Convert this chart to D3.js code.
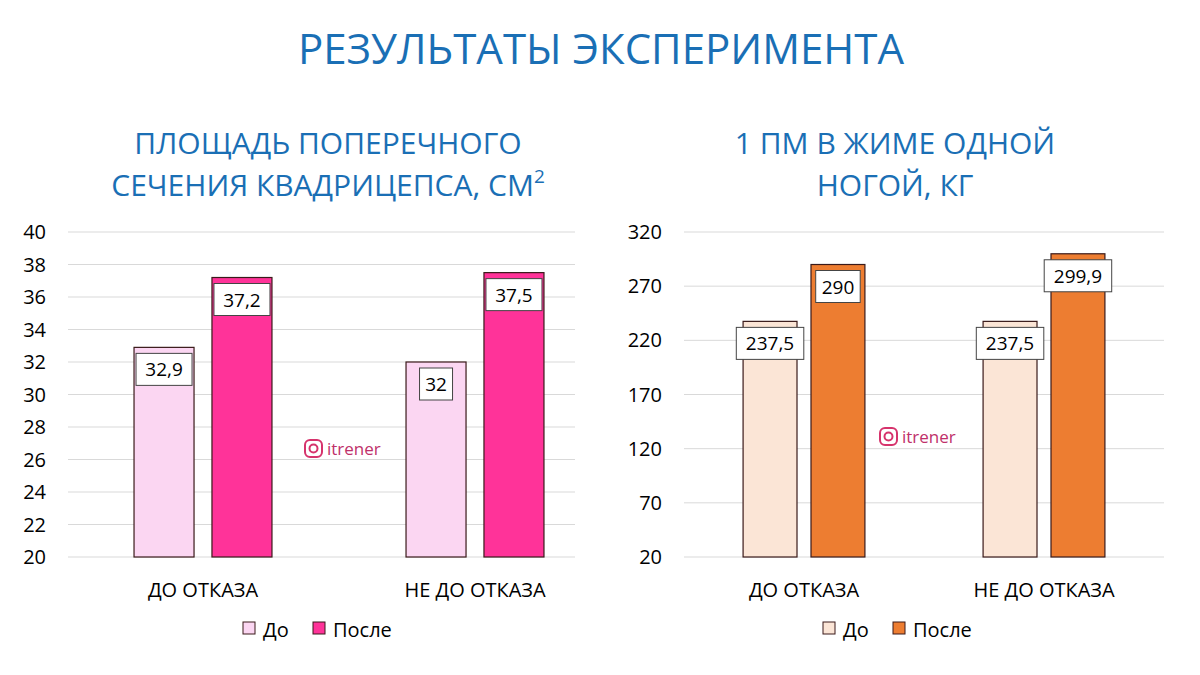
<!DOCTYPE html><html><head><meta charset="utf-8"><script src="https://cdn.jsdelivr.net/npm/d3@7"></script>
<style>body{margin:0;background:#fff}text{font-family:"Open Sans",sans-serif}</style></head><body><svg id="c" width="1200" height="675"></svg>
<script>
const categories=["ДО ОТКАЗА","НЕ ДО ОТКАЗА"];
const series=["До","После"];
const areaValues=[[32.9,37.2],[32,37.5]];
const areaLabels=[["32,9","37,2"],["32","37,5"]];
const pmValues=[[237.5,290],[237.5,299.9]];
const pmLabels=[["237,5","290"],["237,5","299,9"]];
const areaTicks=[20,22,24,26,28,30,32,34,36,38,40];
const pmTicks=[20,70,120,170,220,270,320];
const svg=d3.select("#c");
const blue="#1a6fb5";
svg.append("text").attr("x",601).attr("y",64).attr("text-anchor","middle").attr("fill",blue).attr("font-size",42).text("РЕЗУЛЬТАТЫ ЭКСПЕРИМЕНТА");
function chart(o){
  const y=d3.scaleLinear().domain(o.dom).range([557,232]);
  const x=d3.scaleBand().domain(categories).range(o.xr);
  const xs=d3.scaleBand().domain(series).range([0,x.bandwidth()]).paddingInner(o.pi).paddingOuter(o.po);
  const g=svg.append("g");
  o.title.forEach((t,i)=>{const tx=g.append("text").attr("x",o.tx).attr("y",154+i*42).attr("text-anchor","middle").attr("fill",blue).attr("font-size",30).text(t);
    if(i==1&&o.sup){tx.append("tspan").attr("dy",-13).attr("font-size",19).text("2");}});
  o.ticks.forEach(t=>{g.append("line").attr("x1",o.gx[0]).attr("x2",o.gx[1]).attr("y1",y(t)).attr("y2",y(t)).attr("stroke","#d9d9d9");
    g.append("text").attr("x",o.lx).attr("y",y(t)+7).attr("text-anchor","end").attr("font-size",20).attr("fill","#000").text(t);});
  categories.forEach((c,ci)=>{
    series.forEach((s,si)=>{
      const v=o.vals[ci][si],bx=x(c)+xs(s),bw=xs.bandwidth();
      g.append("rect").attr("x",bx).attr("y",y(v)).attr("width",bw).attr("height",y(o.dom[0])-y(v)).attr("fill",o.colors[si]).attr("stroke","#3a1a1a").attr("stroke-width",1.2);
      const lbl=o.labels[ci][si],w=lbl.length*11.5+10;
      g.append("rect").attr("x",bx+bw/2-w/2).attr("y",y(v)+6).attr("width",w).attr("height",32).attr("fill","#fff").attr("stroke","#444");
      g.append("text").attr("x",bx+bw/2).attr("y",y(v)+29).attr("text-anchor","middle").attr("font-size",19).text(lbl);
    });
    g.append("text").attr("x",x(c)+x.bandwidth()/2).attr("y",597).attr("text-anchor","middle").attr("font-size",20).text(c);
  });
  series.forEach((s,i)=>{const lx=o.leg+i*70;
    g.append("rect").attr("x",lx).attr("y",622).attr("width",12).attr("height",12).attr("fill",o.colors[i]).attr("stroke","#3a1a1a");
    g.append("text").attr("x",lx+20).attr("y",637).attr("font-size",20).text(s);});
  const wx=o.wm[0],wy=o.wm[1];
  g.append("rect").attr("x",wx).attr("y",wy-9).attr("width",17).attr("height",17).attr("rx",5).attr("fill","none").attr("stroke","#d6336c").attr("stroke-width",2);
  g.append("circle").attr("cx",wx+8.5).attr("cy",wy-0.5).attr("r",4).attr("fill","none").attr("stroke","#d6336c").attr("stroke-width",2);
  g.append("text").attr("x",wx+22).attr("y",wy+6).attr("font-size",17).attr("fill","#c0306a").text("itrener");
}
chart({dom:[20,40],ticks:areaTicks,xr:[67,611],pi:0.23,po:0.86,gx:[68,575],lx:46,tx:328,title:["ПЛОЩАДЬ ПОПЕРЕЧНОГО","СЕЧЕНИЯ КВАДРИЦЕПСА, СМ"],sup:true,vals:areaValues,labels:areaLabels,colors:["#fbd6f2","#ff3399"],leg:243,wm:[305,449]});
chart({dom:[20,320],ticks:pmTicks,xr:[684,1164],pi:0.206,po:0.87,gx:[684,1164],lx:662,tx:895,title:["1 ПМ В ЖИМЕ ОДНОЙ","НОГОЙ, КГ"],sup:false,vals:pmValues,labels:pmLabels,colors:["#fbe5d6","#ed7d31"],leg:823,wm:[880,437]});
</script></body></html>
